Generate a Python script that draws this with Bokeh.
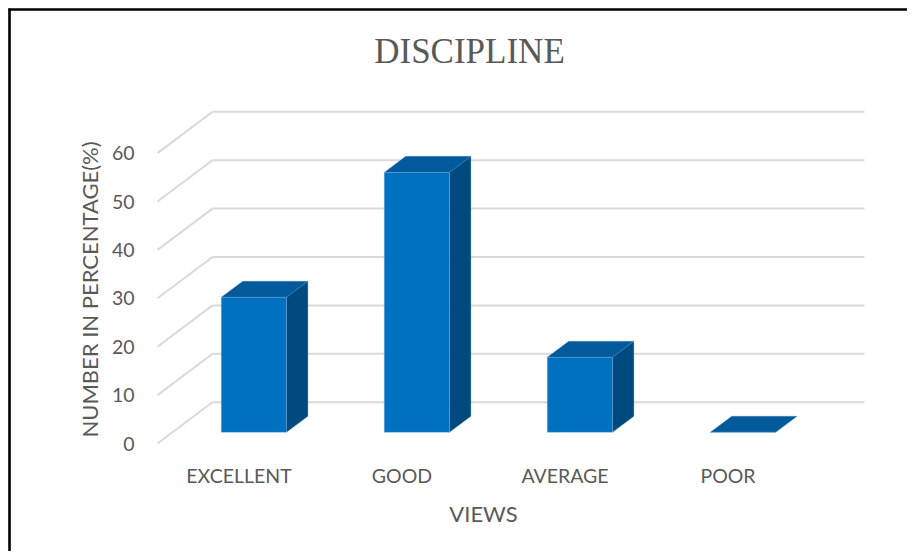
import math
from bokeh.plotting import figure
from bokeh.models import Range1d
from bokeh.embed import file_html
from bokeh.resources import INLINE
from bokeh.core.properties import value

# ---------------- data ----------------
categories = ["EXCELLENT", "GOOD", "AVERAGE", "POOR"]
percentages = [27.9, 53.7, 15.5, 0.0]
y_ticks = [0, 10, 20, 30, 40, 50, 60]
title_text = "DISCIPLINE"
x_title = "VIEWS"
y_title = "NUMBER IN PERCENTAGE(%)"

# ---------------- layout constants (canvas pixels) ----------------
W, H = 907, 551
ORIGIN_X, ORIGIN_Y = 157, 443    # front-left floor corner (category -0.5, value 0)
SX, SY = 163.0, 4.84             # px per category / px per percent
DEPTH_DX = 55.0 / SX             # oblique depth offset, data units
DEPTH_DY = 41.3 / SY
BAR_W = 0.40
D0, D1 = 0.27, 0.66              # bar depth span (fraction of floor depth)

FRONT = "#0070c0"
TOP = "#005a9c"
SIDE = "#004a80"
GRID = "#d9d9d9"
TXT = "#595959"
FONT = "Lato"

def px2x(X):
    return -0.5 + (X - ORIGIN_X) / SX

def px2y(Y):
    return (ORIGIN_Y - Y) / SY

n = len(categories)
x0 = -0.5

p = figure(width=W, height=H, output_backend="svg", toolbar_location=None,
           x_range=Range1d(px2x(0), px2x(W)), y_range=Range1d(px2y(H), px2y(0)),
           min_border=0)
p.axis.visible = False
p.grid.visible = False
p.outline_line_color = None
p.background_fill_color = "white"
p.border_fill_color = "white"

# outer black border (top and left edges visible)
p.segment(x0=[px2x(8), px2x(9)], y0=[px2y(9), px2y(8)],
          x1=[px2x(W), px2x(9)], y1=[px2y(9), px2y(H)],
          line_color="black", line_width=2.6)

# walls: left side diagonals and back wall gridlines
nt = len(y_ticks)
p.segment(x0=[x0] * nt, y0=y_ticks,
          x1=[x0 + DEPTH_DX] * nt, y1=[t + DEPTH_DY for t in y_ticks],
          line_color=GRID, line_width=2)
p.segment(x0=[x0 + DEPTH_DX] * nt, y0=[t + DEPTH_DY for t in y_ticks],
          x1=[n - 0.5 + DEPTH_DX] * nt, y1=[t + DEPTH_DY for t in y_ticks],
          line_color=GRID, line_width=2)

# 3D bars
fx, fy, tx, ty, sx, sy = [], [], [], [], [], []
ddx, ddy = (D1 - D0) * DEPTH_DX, (D1 - D0) * DEPTH_DY
for i, v in enumerate(percentages):
    xl = i - BAR_W / 2 + D0 * DEPTH_DX
    xr = i + BAR_W / 2 + D0 * DEPTH_DX
    yb = D0 * DEPTH_DY
    yt = v + D0 * DEPTH_DY
    fx.append([xl, xr, xr, xl]); fy.append([yb, yb, yt, yt])
    tx.append([xl, xr, xr + ddx, xl + ddx]); ty.append([yt, yt, yt + ddy, yt + ddy])
    sx.append([xr, xr + ddx, xr + ddx, xr]); sy.append([yb, yb + ddy, yt + ddy, yt])

p.patches(xs=sx, ys=sy, fill_color=SIDE, line_color="#4f86b8", line_width=0.6, line_alpha=0.5)
p.patches(xs=tx, ys=ty, fill_color=TOP, line_color="#4f86b8", line_width=0.6, line_alpha=0.5)
p.patches(xs=fx, ys=fy, fill_color=FRONT, line_color="#7fb2e0", line_width=0.6, line_alpha=0.6)

# tick labels
p.text(x=[px2x(134)] * nt, y=y_ticks, text=[str(t) for t in y_ticks],
       text_font=value(FONT), text_font_size="19.5px", text_color=TXT,
       text_align="right", text_baseline="middle")
p.text(x=list(range(n)), y=[px2y(474.5)] * n, text=categories,
       text_font=value(FONT), text_font_size="19.5px", text_color=TXT,
       text_align="center", text_baseline="middle")

# titles
p.text(x=[px2x(469)], y=[px2y(50.5)], text=[title_text],
       text_font=value("Liberation Serif"), text_font_size="35px", text_color=TXT,
       text_align="center", text_baseline="middle")
p.text(x=[(n - 1) / 2], y=[px2y(513)], text=[x_title],
       text_font=value(FONT), text_font_size="22px", text_color=TXT,
       text_align="center", text_baseline="middle")
p.text(x=[px2x(89)], y=[px2y(289)], text=[y_title], angle=math.pi / 2,
       text_font=value(FONT), text_font_size="22px", text_color=TXT,
       text_align="center", text_baseline="middle")

open("out.html", "w").write(file_html(p, INLINE))
